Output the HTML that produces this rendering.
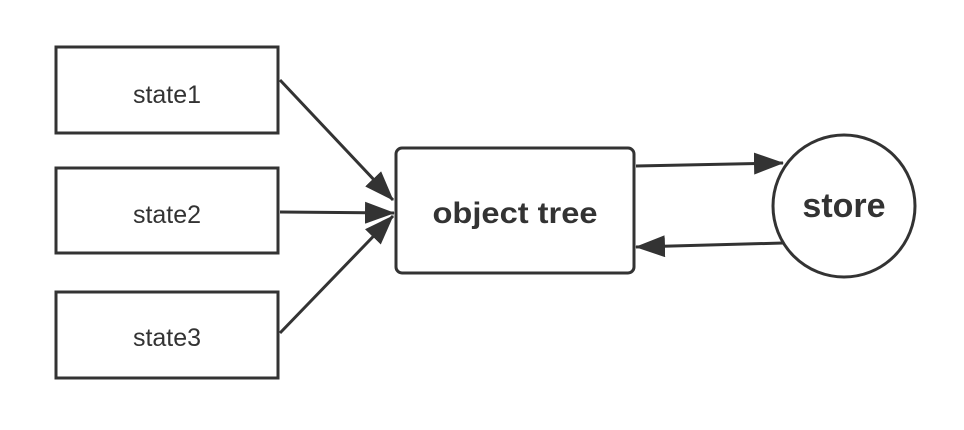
<!DOCTYPE html>
<html><head><style>body{margin:0;background:#fff}</style></head><body>
<svg width="964" height="430" xmlns="http://www.w3.org/2000/svg" style="display:block">
<defs>
<marker id="b" markerWidth="30" markerHeight="22" refX="29" refY="11" orient="auto" markerUnits="userSpaceOnUse" viewBox="0 0 30 22"><path d="M0,0 L30,11 L0,22 z" fill="#333"/></marker></defs>
<g fill="#fff" stroke="#333" stroke-width="3">
<rect x="56" y="47" width="222" height="86"/>
<rect x="56" y="168" width="222" height="85"/>
<rect x="56" y="292" width="222" height="86"/>
<rect x="396" y="148" width="238" height="125" rx="6"/>
<circle cx="844" cy="206" r="71"/>
</g>
<g stroke="#333" stroke-width="3" fill="none">
<line x1="280" y1="80" x2="393" y2="200" marker-end="url(#b)"/>
<line x1="280" y1="212" x2="394" y2="213" marker-end="url(#b)"/>
<line x1="280" y1="333" x2="393" y2="216" marker-end="url(#b)"/>
<line x1="636" y1="166" x2="783" y2="163" marker-end="url(#b)"/>
<line x1="783" y1="243" x2="636" y2="247" marker-end="url(#b)"/>
</g>
<g font-family="Liberation Sans, sans-serif" fill="#333" text-anchor="middle">
<text x="167" y="103" font-size="25">state1</text>
<text x="167" y="223" font-size="25">state2</text>
<text x="167" y="346" font-size="25">state3</text>
<text x="515" y="223" font-size="30" font-weight="bold" textLength="165" lengthAdjust="spacingAndGlyphs">object tree</text>
<text x="844" y="217" font-size="34" font-weight="bold">store</text>
</g>
</svg>
</body></html>
